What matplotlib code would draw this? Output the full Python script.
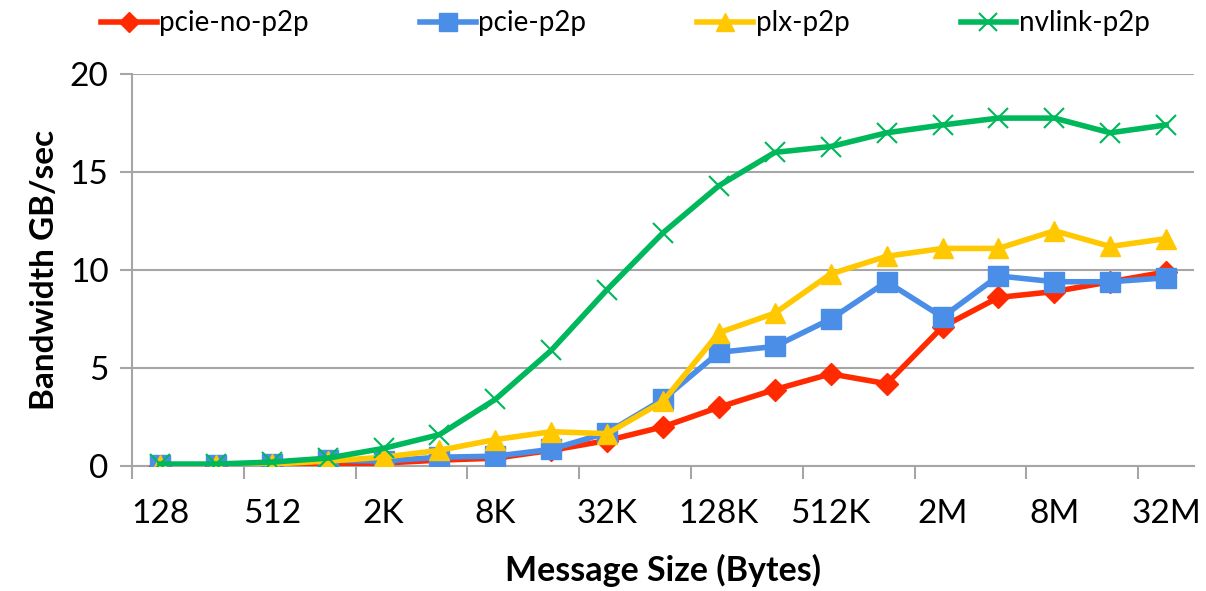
import numpy as np
import matplotlib
matplotlib.use("Agg")
import matplotlib.pyplot as plt

# message sizes (categories on the x axis)
sizes = ['128', '256', '512', '1K', '2K', '4K', '8K', '16K', '32K', '64K',
         '128K', '256K', '512K', '1M', '2M', '4M', '8M', '16M', '32M']

# bandwidth in GB/sec
pcie_no_p2p = [0.02, 0.02, 0.05, 0.1, 0.15, 0.3, 0.4, 0.8, 1.3, 2.0,
               3.0, 3.9, 4.7, 4.2, 7.1, 8.6, 8.9, 9.4, 9.9]
pcie_p2p = [0.05, 0.05, 0.1, 0.3, 0.25, 0.45, 0.5, 0.85, 1.7, 3.4,
            5.8, 6.1, 7.5, 9.4, 7.6, 9.7, 9.4, 9.4, 9.6]
plx_p2p = [0.05, 0.05, 0.1, 0.25, 0.45, 0.8, 1.35, 1.75, 1.65, 3.3,
           6.8, 7.8, 9.8, 10.7, 11.1, 11.1, 12.0, 11.2, 11.6]
nvlink_p2p = [0.1, 0.1, 0.2, 0.4, 0.9, 1.6, 3.4, 5.9, 9.0, 11.9,
              14.3, 16.0, 16.3, 17.0, 17.4, 17.75, 17.75, 17.0, 17.4]

plt.rcParams['font.family'] = ['Lato', 'DejaVu Sans']

fig = plt.figure(figsize=(12.06, 5.91), dpi=100)
ax = fig.add_axes([0.1095, 0.2115, 0.8806, 0.6633])

x = np.arange(len(sizes))
grid_col = '#a6a6a6'

ax.plot(x, pcie_no_p2p, color='#ff2a00', lw=4, marker='D', ms=11,
        label='pcie-no-p2p', zorder=3)
ax.plot(x, pcie_p2p, color='#4a8ee8', lw=4, marker='s', ms=14,
        label='pcie-p2p', zorder=4)
ax.plot(x, plx_p2p, color='#ffc800', lw=4, marker='^', ms=15,
        label='plx-p2p', zorder=5)
ax.plot(x, nvlink_p2p, color='#00b85c', lw=4, marker='x', ms=14,
        mew=1.5, label='nvlink-p2p', zorder=6)

ax.set_xlim(-0.5, len(sizes) - 0.5)
ax.set_ylim(0, 20)
ax.set_yticks([0, 5, 10, 15, 20])
ax.yaxis.grid(True, color=grid_col, lw=1.5)
ax.set_axisbelow(True)

# labels on every other category, tick marks between categories
ax.set_xticks(x[::2])
ax.set_xticklabels(sizes[::2])
ax.set_xticks(np.arange(-0.5, len(sizes), 2), minor=True)
ax.tick_params(axis='x', which='major', length=0, pad=24, labelsize=24)
ax.tick_params(axis='x', which='minor', length=9, width=1.5, color=grid_col,
               direction='out')
ax.tick_params(axis='y', length=9, width=1.5, color=grid_col, labelsize=24,
               pad=8)

for s in ['top', 'right']:
    ax.spines[s].set_visible(False)
for s in ['left', 'bottom']:
    ax.spines[s].set_color(grid_col)
    ax.spines[s].set_linewidth(1.5)

ax.set_xlabel('Message Size (Bytes)', fontsize=24.5, fontweight='bold',
              labelpad=18)
ax.set_ylabel('Bandwidth GB/sec', fontsize=24, fontweight='bold',
              labelpad=8)

fig.legend(loc='upper left', bbox_to_anchor=(0.063, 1.025), ncol=4,
           frameon=False, fontsize=20, handlelength=2.0, handletextpad=0.1,
           columnspacing=4.0, markerscale=0.9)

fig.savefig('out.png', dpi=100)
